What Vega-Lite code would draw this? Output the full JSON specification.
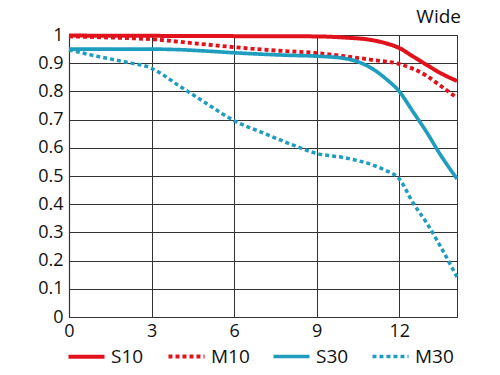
{
  "$schema": "https://vega.github.io/schema/vega-lite/v6.json",
  "autosize": "none",
  "width": 388,
  "height": 282,
  "padding": {"left": 69, "top": 35, "right": 43, "bottom": 58},
  "background": "white",
  "config": {
    "font": "Open Sans",
    "view": {"stroke": "#333", "strokeWidth": 1},
    "axis": {"labelFont": "Open Sans", "labelFontSize": 18, "labelColor": "#111", "gridColor": "#333", "gridOpacity": 1, "gridWidth": 1, "domainColor": "#333", "domainWidth": 1.2, "ticks": false, "title": null}
  },
  "title": {"text": "Wide", "anchor": "end", "frame": "group", "fontSize": 19, "fontWeight": "normal", "color": "#111", "font": "Open Sans", "offset": 2, "dx": 4, "dy": 3},
  "data": {"values": [
    {"s": "S10", "x": 0, "y": 0.998}, {"s": "S10", "x": 3, "y": 0.997}, {"s": "S10", "x": 6, "y": 0.996}, {"s": "S10", "x": 9, "y": 0.995},
    {"s": "S10", "x": 10, "y": 0.991}, {"s": "S10", "x": 11, "y": 0.982}, {"s": "S10", "x": 11.5, "y": 0.971}, {"s": "S10", "x": 12, "y": 0.954},
    {"s": "S10", "x": 12.5, "y": 0.924}, {"s": "S10", "x": 13, "y": 0.894}, {"s": "S10", "x": 13.5, "y": 0.865}, {"s": "S10", "x": 14.1, "y": 0.837},
    {"s": "M10", "x": 0, "y": 0.995}, {"s": "M10", "x": 1.5, "y": 0.991}, {"s": "M10", "x": 3, "y": 0.985}, {"s": "M10", "x": 4.5, "y": 0.971},
    {"s": "M10", "x": 6, "y": 0.957}, {"s": "M10", "x": 7.5, "y": 0.945}, {"s": "M10", "x": 9, "y": 0.936}, {"s": "M10", "x": 10, "y": 0.925},
    {"s": "M10", "x": 11, "y": 0.912}, {"s": "M10", "x": 12, "y": 0.897}, {"s": "M10", "x": 12.5, "y": 0.88}, {"s": "M10", "x": 13, "y": 0.855},
    {"s": "M10", "x": 13.5, "y": 0.82}, {"s": "M10", "x": 14.1, "y": 0.777},
    {"s": "S30", "x": 0, "y": 0.95}, {"s": "S30", "x": 3, "y": 0.95}, {"s": "S30", "x": 4, "y": 0.948}, {"s": "S30", "x": 5, "y": 0.943},
    {"s": "S30", "x": 6, "y": 0.937}, {"s": "S30", "x": 7, "y": 0.932}, {"s": "S30", "x": 8, "y": 0.928}, {"s": "S30", "x": 9, "y": 0.925},
    {"s": "S30", "x": 10, "y": 0.917}, {"s": "S30", "x": 10.5, "y": 0.905}, {"s": "S30", "x": 11, "y": 0.882}, {"s": "S30", "x": 11.5, "y": 0.846},
    {"s": "S30", "x": 12, "y": 0.8}, {"s": "S30", "x": 12.5, "y": 0.728}, {"s": "S30", "x": 13, "y": 0.655}, {"s": "S30", "x": 13.5, "y": 0.575},
    {"s": "S30", "x": 14.1, "y": 0.49},
    {"s": "M30", "x": 0, "y": 0.947}, {"s": "M30", "x": 1, "y": 0.925}, {"s": "M30", "x": 2, "y": 0.905}, {"s": "M30", "x": 3, "y": 0.882},
    {"s": "M30", "x": 4, "y": 0.82}, {"s": "M30", "x": 5, "y": 0.757}, {"s": "M30", "x": 6, "y": 0.696}, {"s": "M30", "x": 7, "y": 0.655},
    {"s": "M30", "x": 8, "y": 0.615}, {"s": "M30", "x": 9, "y": 0.58}, {"s": "M30", "x": 10, "y": 0.565}, {"s": "M30", "x": 11, "y": 0.54},
    {"s": "M30", "x": 11.5, "y": 0.52}, {"s": "M30", "x": 12, "y": 0.49}, {"s": "M30", "x": 12.5, "y": 0.405}, {"s": "M30", "x": 13, "y": 0.333},
    {"s": "M30", "x": 13.5, "y": 0.25}, {"s": "M30", "x": 14.1, "y": 0.142}
  ]},
  "mark": {"type": "line", "interpolate": "monotone", "strokeCap": "butt"},
  "encoding": {
    "x": {"field": "x", "type": "quantitative", "scale": {"domain": [0, 14.1], "nice": false}, "axis": {"values": [0, 3, 6, 9, 12], "labelPadding": 5, "labelFlush": false}},
    "y": {"field": "y", "type": "quantitative", "scale": {"domain": [0, 1], "nice": false}, "axis": {"values": [0, 0.1, 0.2, 0.3, 0.4, 0.5, 0.6, 0.7, 0.8, 0.9, 1], "labelExpr": "datum.value == 0 ? '0' : (datum.value == 1 ? '1' : format(datum.value, '.1f'))", "labelPadding": 6}},
    "color": {"field": "s", "type": "nominal", "scale": {"domain": ["S10", "M10", "S30", "M30"], "range": ["#e2121c", "#e2121c", "#1e9dbf", "#1e9dbf"]},
      "legend": {"orient": "none", "legendX": -3, "legendY": 301, "direction": "horizontal", "columns": 4, "columnPadding": 16, "symbolType": "stroke", "symbolSize": 1300, "symbolStrokeWidth": 5, "labelFontSize": 19, "labelFont": "Open Sans", "labelColor": "#111", "labelOffset": 4, "labelBaseline": "middle", "title": null, "padding": 0, "rowPadding": 0}},
    "strokeDash": {"field": "s", "type": "nominal", "scale": {"domain": ["S10", "M10", "S30", "M30"], "range": [[1, 0], [4, 3], [1, 0], [4, 3]]}, "legend": null},
    "strokeWidth": {"field": "s", "type": "nominal", "scale": {"domain": ["S10", "M10", "S30", "M30"], "range": [4, 3.5, 4, 3.5]}, "legend": null}
  }
}
